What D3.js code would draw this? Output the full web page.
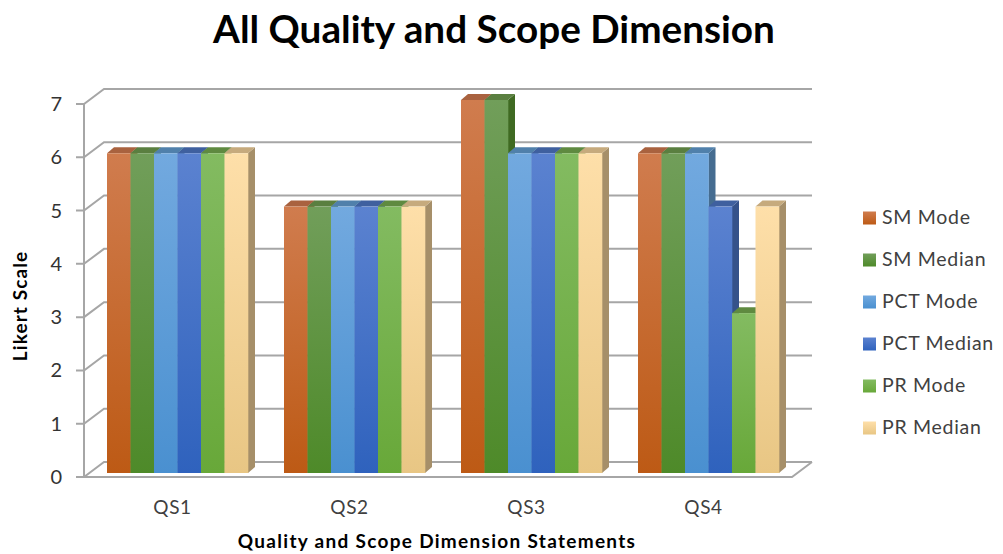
<!DOCTYPE html>
<html>
<head>
<meta charset="utf-8">
<script src="https://cdn.jsdelivr.net/npm/d3@7"></script>
<style>
  html, body { margin: 0; padding: 0; background: #fff; }
  svg { display: block; }
  text { font-family: Lato, "Open Sans", sans-serif; }
</style>
</head>
<body>
<div id="chart"></div>
<script>
const categories = ["QS1", "QS2", "QS3", "QS4"];
const seriesNames = ["SM Mode", "SM Median", "PCT Mode", "PCT Median", "PR Mode", "PR Median"];
const smMode = [6, 5, 7, 6];
const smMedian = [6, 5, 7, 6];
const pctMode = [6, 5, 6, 6];
const pctMedian = [6, 5, 6, 5];
const prMode = [6, 5, 6, 3];
const prMedian = [6, 5, 6, 5];
const seriesValues = [smMode, smMedian, pctMode, pctMedian, prMode, prMedian];
const yTicks = [0, 1, 2, 3, 4, 5, 6, 7];

// light end, dark end, top face, side face
const palette = [
  ["#d07c4e", "#bd5a15", "#a9623f", "#8f4a1f"],
  ["#719e5a", "#4e8a29", "#5a7f40", "#3f6a22"],
  ["#72a9df", "#4a90d0", "#5080ab", "#456c90"],
  ["#5b82d0", "#2f62bd", "#3f609f", "#35528a"],
  ["#83bb61", "#68a839", "#5f8a40", "#4c7a2c"],
  ["#fedfa9", "#e8c684", "#c6aa7d", "#a68f69"]
];

const width = 1003, height = 554;
const svg = d3.select("#chart").append("svg")
  .attr("width", width)
  .attr("height", height);

// front plane of the box, walls sit behind it by (wallX, wallY)
const frontLeft = 84, frontRight = 792;
const wallX = 20, wallY = -15;
const barDepthX = 7, barDepthY = -6;

const x = d3.scaleBand().domain(categories).range([frontLeft, frontRight]);
const y = d3.scaleLinear().domain([0, 7]).range([477, 104]);

const groupLeft = x.bandwidth() / 2 - 65.5;
const bar = d3.scaleBand().domain(d3.range(seriesNames.length)).range([0, 141]);
const barBase = 4; // bars stand a little behind the front edge of the floor

const defs = svg.append("defs");
palette.forEach((c, i) => {
  const g = defs.append("linearGradient")
    .attr("id", "grad" + i)
    .attr("x1", 0).attr("y1", 0).attr("x2", 0).attr("y2", 1);
  g.append("stop").attr("offset", 0).attr("stop-color", c[0]);
  g.append("stop").attr("offset", 1).attr("stop-color", c[1]);
});

// grid lines on back wall and the diagonals on the left wall
const grid = svg.append("g")
  .attr("fill", "none")
  .attr("stroke", "#a6a6a6")
  .attr("stroke-width", 2);

grid.selectAll("path.gridline")
  .data(yTicks)
  .enter()
  .append("path")
  .attr("class", "gridline")
  .attr("d", d => {
    const py = y(d);
    return "M" + (frontLeft - 8) + "," + py +
      "H" + frontLeft +
      "L" + (frontLeft + wallX) + "," + (py + wallY) +
      "H" + (frontRight + wallX);
  });

grid.append("path")
  .attr("d", "M" + frontLeft + "," + y(7) + "V" + y(0) + "H" + frontRight +
    "L" + (frontRight + wallX) + "," + (y(0) + wallY));

// bars, drawn left to right so each front covers the side of the previous one
const bars = [];
categories.forEach((cat, c) => {
  seriesValues.forEach((vals, s) => {
    bars.push({ cat: cat, s: s, value: vals[c] });
  });
});

const barG = svg.selectAll("g.bar")
  .data(bars)
  .enter()
  .append("g")
  .attr("class", "bar")
  .attr("transform", d => "translate(" + (x(d.cat) + groupLeft + bar(d.s)) + ",0)");

const bw = bar.bandwidth();

barG.append("path")
  .attr("fill", d => palette[d.s][3])
  .attr("d", d => {
    const top = y(d.value) - barBase;
    const base = y(0) - barBase;
    return "M" + bw + "," + top +
      "l" + barDepthX + "," + barDepthY +
      "V" + (base + barDepthY) +
      "L" + bw + "," + base + "Z";
  });

barG.append("path")
  .attr("fill", d => palette[d.s][2])
  .attr("d", d => {
    const top = y(d.value) - barBase;
    return "M0," + top +
      "l" + barDepthX + "," + barDepthY +
      "h" + bw +
      "l" + (-barDepthX) + "," + (-barDepthY) + "Z";
  });

barG.append("rect")
  .attr("x", 0)
  .attr("y", d => y(d.value) - barBase)
  .attr("width", bw + 0.3)
  .attr("height", d => y(0) - y(d.value))
  .attr("fill", d => "url(#grad" + d.s + ")");

// axis labels
svg.append("g")
  .selectAll("text")
  .data(yTicks)
  .enter()
  .append("text")
  .attr("x", 62)
  .attr("y", d => y(d) + 7)
  .attr("text-anchor", "end")
  .attr("font-size", 20)
  .attr("fill", "#333")
  .text(d => d);

svg.append("g")
  .selectAll("text")
  .data(categories)
  .enter()
  .append("text")
  .attr("x", d => x(d) + x.bandwidth() / 2)
  .attr("y", 514)
  .attr("text-anchor", "middle")
  .attr("font-size", 19)
  .attr("letter-spacing", 0.6)
  .attr("fill", "#404040")
  .text(d => d);

// titles
svg.append("text")
  .attr("x", 494)
  .attr("y", 43)
  .attr("text-anchor", "middle")
  .attr("font-size", 38.7)
  .attr("font-weight", "bold")
  .attr("fill", "#000")
  .text("All Quality and Scope Dimension");

svg.append("text")
  .attr("x", 437)
  .attr("y", 548)
  .attr("text-anchor", "middle")
  .attr("font-size", 19)
  .attr("letter-spacing", 1.3)
  .attr("font-weight", "bold")
  .attr("fill", "#000")
  .text("Quality and Scope Dimension Statements");

svg.append("text")
  .attr("transform", "translate(27,306) rotate(-90)")
  .attr("text-anchor", "middle")
  .attr("font-size", 19)
  .attr("letter-spacing", 1.1)
  .attr("font-weight", "bold")
  .attr("fill", "#000")
  .text("Likert Scale");

// legend
const legend = svg.selectAll("g.legend")
  .data(seriesNames)
  .enter()
  .append("g")
  .attr("class", "legend")
  .attr("transform", (d, i) => "translate(863," + (218 + i * 42) + ")");

legend.append("rect")
  .attr("y", -6.5)
  .attr("width", 13)
  .attr("height", 13)
  .attr("fill", (d, i) => "url(#grad" + i + ")");

legend.append("text")
  .attr("x", 19)
  .attr("y", 6)
  .attr("font-size", 19.5)
  .attr("letter-spacing", 0.7)
  .attr("fill", "#404040")
  .text(d => d);
</script>
</body>
</html>
